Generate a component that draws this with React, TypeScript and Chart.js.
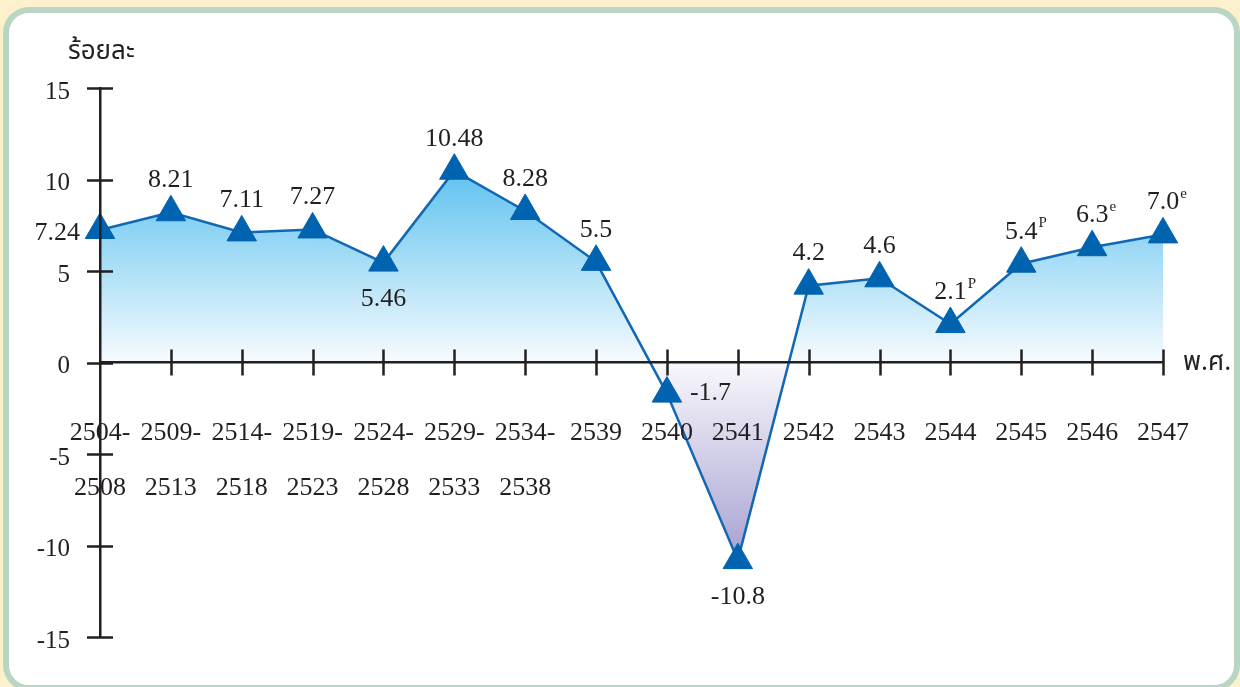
import React, { useEffect, useRef } from "react";
import { Chart, registerables } from "chart.js";

Chart.register(...registerables);

const categories: (string | string[])[] = [
  ["2504-", "2508"],
  ["2509-", "2513"],
  ["2514-", "2518"],
  ["2519-", "2523"],
  ["2524-", "2528"],
  ["2529-", "2533"],
  ["2534-", "2538"],
  "2539",
  "2540",
  "2541",
  "2542",
  "2543",
  "2544",
  "2545",
  "2546",
  "2547",
];

const growthValues = [7.24, 8.21, 7.11, 7.27, 5.46, 10.48, 8.28, 5.5, -1.7, -10.8, 4.2, 4.6, 2.1, 5.4, 6.3, 7.0];

const valueLabels = ["7.24", "8.21", "7.11", "7.27", "5.46", "10.48", "8.28", "5.5", "-1.7", "-10.8", "4.2", "4.6", "2.1", "5.4", "6.3", "7.0"];

const valueMarks = ["", "", "", "", "", "", "", "", "", "", "", "", "P", "P", "e", "e"];

const labelPlacement = ["left", "above", "above", "above", "below", "above", "above", "above", "right", "below", "above", "above", "above", "above", "above", "above"];

const yTicks = { min: -15, max: 15, step: 5 };

const yTitle = "ร้อยละ";
const xTitle = "พ.ศ.";

const SERIF = '"Liberation Serif", "Times New Roman", serif';
const THAI = '"Noto Sans Thai", "Noto Serif Thai", "Loma", "Garuda", "Norasi", "Tlwg Typo", "Noto Sans", sans-serif';
const INK = "#231f20";

const decorPlugin = {
  id: "decor",
  afterDatasetsDraw(chart: any) {
    const ctx = chart.ctx;
    const x = chart.scales.x;
    const y = chart.scales.y;
    const yAxisX = chart.chartArea.left;
    const zeroY = y.getPixelForValue(0);
    ctx.save();
    ctx.strokeStyle = INK;
    ctx.lineWidth = 2.5;
    ctx.beginPath();
    y.ticks.forEach((t: any) => {
      const py = Math.round(y.getPixelForValue(t.value)) + 0.5;
      ctx.moveTo(yAxisX - 13, py);
      ctx.lineTo(yAxisX + 13, py);
    });
    categories.forEach((_, i) => {
      if (i === 0) return;
      const px = Math.round(x.getPixelForValue(i)) + 0.5;
      ctx.moveTo(px, zeroY - 13);
      ctx.lineTo(px, zeroY + 13);
    });
    ctx.stroke();

    ctx.fillStyle = INK;
    growthValues.forEach((v, i) => {
      const px = x.getPixelForValue(i);
      const py = y.getPixelForValue(v);
      const text = valueLabels[i];
      const place = labelPlacement[i];
      ctx.font = `26px ${SERIF}`;
      ctx.textBaseline = "middle";
      ctx.textAlign = "center";
      const w = ctx.measureText(text).width;
      let cx = px;
      let cy = py;
      if (place === "above") {
        cy = py - 32;
      } else if (place === "below") {
        cy = py + 37;
      } else if (place === "left") {
        cx = px - 20 - w / 2;
        cy = py + 3;
      } else {
        cx = px + 23 + w / 2;
        cy = py;
      }
      ctx.fillText(text, cx, cy);
      const mark = valueMarks[i];
      if (mark) {
        ctx.font = `15px ${SERIF}`;
        ctx.textAlign = "left";
        ctx.textBaseline = "top";
        ctx.fillText(mark, cx + w / 2 + 1, cy - 16);
      }
    });
    ctx.font = `26px ${THAI}`;
    ctx.textAlign = "left";
    ctx.textBaseline = "middle";
    ctx.fillText(yTitle, 68, 54);
    ctx.fillText(xTitle, chart.chartArea.right + 20, y.getPixelForValue(0) + 2);
    ctx.restore();
  },
};

export default function App() {
  const canvasRef = useRef<HTMLCanvasElement | null>(null);

  useEffect(() => {
    const canvas = canvasRef.current;
    if (!canvas) return;
    const chart = new Chart(canvas, {
      type: "line",
      data: {
        labels: categories,
        datasets: [
          {
            data: growthValues,
            borderColor: "#1267b2",
            borderWidth: 2.5,
            tension: 0,
            fill: "origin",
            backgroundColor: (c: any) => {
              const ch = c.chart;
              if (!ch.chartArea || !ch.scales.y) return "rgba(0,0,0,0)";
              const ys = ch.scales.y;
              const top = ys.getPixelForValue(Math.max(...growthValues));
              const bottom = ys.getPixelForValue(Math.min(...growthValues));
              const zero = ys.getPixelForValue(0);
              const z = (zero - top) / (bottom - top);
              const g = ch.ctx.createLinearGradient(0, top, 0, bottom);
              g.addColorStop(0, "#5fc2ef");
              g.addColorStop(Math.max(0, z - 0.002), "#f6fbfe");
              g.addColorStop(Math.min(1, z + 0.002), "#f8f7fc");
              g.addColorStop(1, "#a6a1d1");
              return g;
            },
            pointStyle: "triangle",
            pointRadius: 17,
            pointHoverRadius: 17,
            pointBackgroundColor: "#0063b0",
            pointBorderColor: "#0063b0",
            pointBorderWidth: 1,
          },
        ],
      },
      options: {
        animation: false,
        responsive: false,
        maintainAspectRatio: false,
        events: [],
        layout: { padding: { top: 88, right: 77, bottom: 50, left: 0 } },
        plugins: {
          legend: { display: false },
          tooltip: { enabled: false },
          title: { display: false },
        },
        scales: {
          x: {
            type: "category",
            position: { y: 0 } as any,
            offset: false,
            grid: {
              display: true,
              drawOnChartArea: false,
              drawTicks: true,
              tickLength: 14,
              color: "rgba(0,0,0,0)",
            },
            border: { display: true, color: INK, width: 2.5, z: 1 },
            ticks: {
              z: 1,
              autoSkip: false,
              maxRotation: 0,
              minRotation: 0,
              padding: 29,
              color: INK,
              font: { family: SERIF, size: 26, lineHeight: 2.12 },
            },
          },
          y: {
            type: "linear",
            min: yTicks.min,
            max: yTicks.max,
            afterFit: (s: any) => {
              s.width = 100;
            },
            grid: {
              display: true,
              drawOnChartArea: false,
              drawTicks: true,
              tickLength: 14,
              color: "rgba(0,0,0,0)",
            },
            border: { display: true, color: INK, width: 2.5, z: 1 },
            ticks: {
              stepSize: yTicks.step,
              padding: 16,
              labelOffset: 4,
              color: INK,
              font: { family: SERIF, size: 25 },
            },
          },
        },
      },
      plugins: [decorPlugin],
    } as any);
    return () => chart.destroy();
  }, []);

  return (
    <div
      style={{
        position: "fixed",
        left: 0,
        top: 0,
        width: 1240,
        height: 687,
        overflow: "hidden",
        background: "#fcf0cd",
      }}
    >
      <div
        style={{
          position: "absolute",
          left: 3,
          top: 7,
          width: 1237,
          height: 684,
          boxSizing: "border-box",
          border: "6px solid #b9d5c3",
          borderRadius: 26,
          background: "#ffffff",
        }}
      />
      <canvas
        ref={canvasRef}
        width={1240}
        height={687}
        style={{ position: "absolute", left: 0, top: 0, width: 1240, height: 687 }}
      />
    </div>
  );
}
